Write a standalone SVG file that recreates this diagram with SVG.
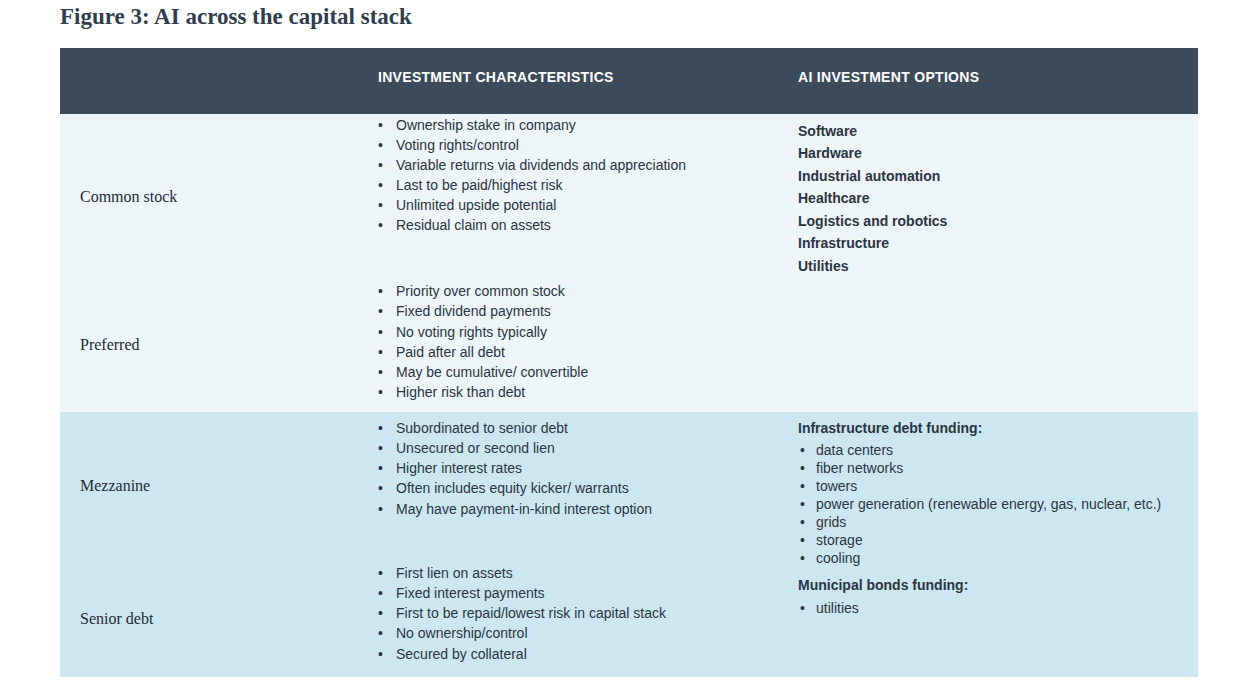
<svg xmlns="http://www.w3.org/2000/svg" width="1256" height="685" viewBox="0 0 1256 685">
<style>
.t{font-family:"Liberation Serif",serif;font-weight:bold;font-size:23px;fill:#2f3d4c}
.h{font-family:"Liberation Sans",Arial,sans-serif;font-weight:bold;font-size:14px;fill:#fff;letter-spacing:0.3px}
.r{font-family:"Liberation Serif",serif;font-size:16px;fill:#1f2a36}
.c{font-family:"Liberation Sans",Arial,sans-serif;font-size:14px;fill:#2a3440}
.b{font-family:"Liberation Sans",Arial,sans-serif;font-size:14px;font-weight:bold;fill:#2a3440}
</style>
<rect width="1256" height="685" fill="#fff"/>
<text class="t" x="60" y="24">Figure 3: AI across the capital stack</text>
<g id="header"><rect x="60" y="48" width="1138" height="66" fill="#3c4a5a"/>
<text class="h" x="378" y="82">INVESTMENT CHARACTERISTICS</text>
<text class="h" x="798" y="82">AI INVESTMENT OPTIONS</text></g>
<g id="equity"><rect x="60" y="114" width="1138" height="298" fill="#edf5f9"/>
<text class="r" x="80" y="202">Common stock</text>
<g class="c"><text x="378" y="130">•</text><text x="396" y="130">Ownership stake in company</text>
<text x="378" y="150">•</text><text x="396" y="150">Voting rights/control</text>
<text x="378" y="170">•</text><text x="396" y="170">Variable returns via dividends and appreciation</text>
<text x="378" y="190">•</text><text x="396" y="190">Last to be paid/highest risk</text>
<text x="378" y="210">•</text><text x="396" y="210">Unlimited upside potential</text>
<text x="378" y="230">•</text><text x="396" y="230">Residual claim on assets</text></g>
<g class="b"><text x="798" y="136">Software</text><text x="798" y="158">Hardware</text><text x="798" y="181">Industrial automation</text><text x="798" y="203">Healthcare</text><text x="798" y="226">Logistics and robotics</text><text x="798" y="248">Infrastructure</text><text x="798" y="271">Utilities</text></g>
<text class="r" x="80" y="350">Preferred</text>
<g class="c"><text x="378" y="296">•</text><text x="396" y="296">Priority over common stock</text>
<text x="378" y="316">•</text><text x="396" y="316">Fixed dividend payments</text>
<text x="378" y="337">•</text><text x="396" y="337">No voting rights typically</text>
<text x="378" y="357">•</text><text x="396" y="357">Paid after all debt</text>
<text x="378" y="377">•</text><text x="396" y="377">May be cumulative/ convertible</text>
<text x="378" y="397">•</text><text x="396" y="397">Higher risk than debt</text></g></g>
<g id="debt"><rect x="60" y="412" width="1138" height="265" fill="#cde7f1"/>
<text class="r" x="80" y="491">Mezzanine</text>
<g class="c"><text x="378" y="433">•</text><text x="396" y="433">Subordinated to senior debt</text>
<text x="378" y="453">•</text><text x="396" y="453">Unsecured or second lien</text>
<text x="378" y="473">•</text><text x="396" y="473">Higher interest rates</text>
<text x="378" y="493">•</text><text x="396" y="493">Often includes equity kicker/ warrants</text>
<text x="378" y="514">•</text><text x="396" y="514">May have payment-in-kind interest option</text></g>
<text class="b" x="798" y="433">Infrastructure debt funding:</text>
<g class="c"><text x="800" y="455">•</text><text x="816" y="455">data centers</text>
<text x="800" y="473">•</text><text x="816" y="473">fiber networks</text>
<text x="800" y="491">•</text><text x="816" y="491">towers</text>
<text x="800" y="509">•</text><text x="816" y="509">power generation (renewable energy, gas, nuclear, etc.)</text>
<text x="800" y="527">•</text><text x="816" y="527">grids</text>
<text x="800" y="545">•</text><text x="816" y="545">storage</text>
<text x="800" y="563">•</text><text x="816" y="563">cooling</text></g>
<text class="b" x="798" y="590">Municipal bonds funding:</text>
<g class="c"><text x="800" y="613">•</text><text x="816" y="613">utilities</text></g>
<text class="r" x="80" y="624">Senior debt</text>
<g class="c"><text x="378" y="578">•</text><text x="396" y="578">First lien on assets</text>
<text x="378" y="598">•</text><text x="396" y="598">Fixed interest payments</text>
<text x="378" y="618">•</text><text x="396" y="618">First to be repaid/lowest risk in capital stack</text>
<text x="378" y="638">•</text><text x="396" y="638">No ownership/control</text>
<text x="378" y="659">•</text><text x="396" y="659">Secured by collateral</text></g></g>
<g id="connectors"/>
</svg>
